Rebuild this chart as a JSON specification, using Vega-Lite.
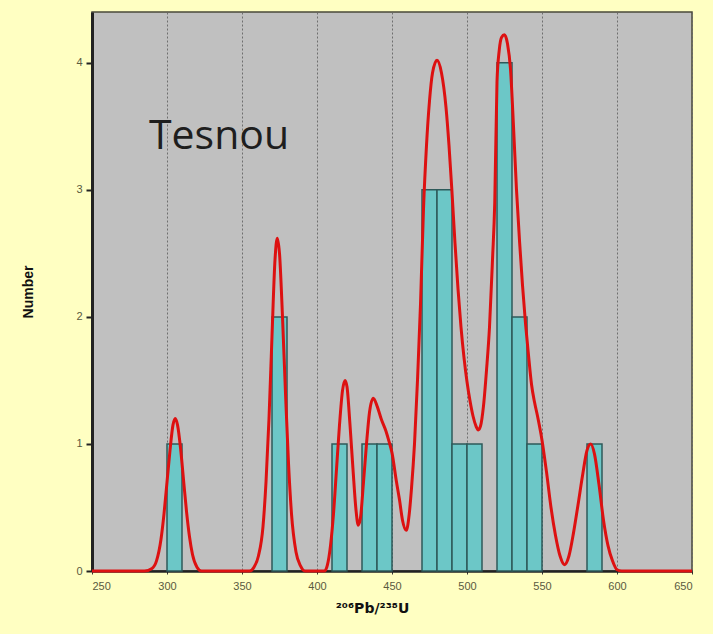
{
  "$schema": "https://vega.github.io/schema/vega-lite/v6.json",
  "autosize": "none",
  "width": 600,
  "height": 559,
  "padding": {"left": 92, "top": 12, "right": 21, "bottom": 63},
  "background": "#FFFFC2",
  "config": {
    "view": {"fill": "#C0C0C0", "stroke": "#4A4A3A", "strokeWidth": 1.5},
    "font": "Liberation Sans"
  },
  "datasets": {
    "bars": [
      {"lo": 300, "hi": 310, "count": 1},
      {"lo": 370, "hi": 380, "count": 2},
      {"lo": 410, "hi": 420, "count": 1},
      {"lo": 430, "hi": 440, "count": 1},
      {"lo": 440, "hi": 450, "count": 1},
      {"lo": 470, "hi": 480, "count": 3},
      {"lo": 480, "hi": 490, "count": 3},
      {"lo": 490, "hi": 500, "count": 1},
      {"lo": 500, "hi": 510, "count": 1},
      {"lo": 520, "hi": 530, "count": 4},
      {"lo": 530, "hi": 540, "count": 2},
      {"lo": 540, "hi": 550, "count": 1},
      {"lo": 580, "hi": 590, "count": 1}
    ],
    "curve": [
      {"age": 250, "density": 0}, {"age": 285, "density": 0}, {"age": 290, "density": 0.02},
      {"age": 293, "density": 0.08}, {"age": 296, "density": 0.25}, {"age": 298, "density": 0.45},
      {"age": 300, "density": 0.7}, {"age": 302, "density": 0.95}, {"age": 304, "density": 1.15},
      {"age": 305.5, "density": 1.2}, {"age": 307, "density": 1.15}, {"age": 309, "density": 0.97},
      {"age": 311, "density": 0.72}, {"age": 313, "density": 0.47}, {"age": 315, "density": 0.27},
      {"age": 317, "density": 0.13}, {"age": 320, "density": 0.03}, {"age": 323, "density": 0},
      {"age": 355, "density": 0}, {"age": 358, "density": 0.03}, {"age": 361, "density": 0.12},
      {"age": 364, "density": 0.35}, {"age": 366, "density": 0.7}, {"age": 368, "density": 1.2},
      {"age": 370, "density": 1.85}, {"age": 372, "density": 2.45}, {"age": 373.5, "density": 2.62},
      {"age": 375, "density": 2.5}, {"age": 377, "density": 2.0}, {"age": 379, "density": 1.4},
      {"age": 381, "density": 0.85}, {"age": 383, "density": 0.45}, {"age": 386, "density": 0.15},
      {"age": 389, "density": 0.04}, {"age": 392, "density": 0}, {"age": 405, "density": 0},
      {"age": 407, "density": 0.05}, {"age": 409, "density": 0.2}, {"age": 411, "density": 0.45},
      {"age": 413, "density": 0.8}, {"age": 415, "density": 1.15}, {"age": 417, "density": 1.42},
      {"age": 418.7, "density": 1.5}, {"age": 420, "density": 1.45}, {"age": 422, "density": 1.15},
      {"age": 424, "density": 0.8}, {"age": 426, "density": 0.48}, {"age": 427.5, "density": 0.36},
      {"age": 429, "density": 0.42}, {"age": 431, "density": 0.7}, {"age": 433, "density": 1.0},
      {"age": 435, "density": 1.25}, {"age": 437.5, "density": 1.36}, {"age": 440, "density": 1.3},
      {"age": 443, "density": 1.19}, {"age": 446, "density": 1.1}, {"age": 448, "density": 1.02},
      {"age": 450, "density": 0.93}, {"age": 453, "density": 0.7}, {"age": 455, "density": 0.56},
      {"age": 457, "density": 0.4}, {"age": 459.5, "density": 0.32}, {"age": 461.5, "density": 0.45},
      {"age": 463, "density": 0.65}, {"age": 465, "density": 1.0}, {"age": 467, "density": 1.5},
      {"age": 469, "density": 2.1}, {"age": 471, "density": 2.85}, {"age": 473, "density": 3.35},
      {"age": 475, "density": 3.7}, {"age": 477, "density": 3.92}, {"age": 480, "density": 4.02},
      {"age": 483, "density": 3.92}, {"age": 486, "density": 3.65}, {"age": 488, "density": 3.35},
      {"age": 490, "density": 2.98}, {"age": 492, "density": 2.58}, {"age": 494, "density": 2.22},
      {"age": 496, "density": 1.92}, {"age": 498, "density": 1.68}, {"age": 500, "density": 1.49},
      {"age": 502, "density": 1.34}, {"age": 504, "density": 1.22}, {"age": 506, "density": 1.14},
      {"age": 507.5, "density": 1.11}, {"age": 509, "density": 1.14}, {"age": 511, "density": 1.3},
      {"age": 513, "density": 1.58}, {"age": 515, "density": 1.92},
      {"age": 517, "density": 2.45}, {"age": 518.5, "density": 2.9}, {"age": 520, "density": 3.85},
      {"age": 521.5, "density": 4.1}, {"age": 523, "density": 4.2}, {"age": 525, "density": 4.22},
      {"age": 527, "density": 4.15}, {"age": 529, "density": 3.95}, {"age": 531, "density": 3.5},
      {"age": 533, "density": 3.0}, {"age": 535, "density": 2.6}, {"age": 537, "density": 2.25},
      {"age": 539, "density": 1.95}, {"age": 541, "density": 1.7}, {"age": 543, "density": 1.47},
      {"age": 545, "density": 1.33}, {"age": 547, "density": 1.22}, {"age": 550, "density": 1.03},
      {"age": 553, "density": 0.78}, {"age": 556, "density": 0.5}, {"age": 559, "density": 0.28},
      {"age": 562, "density": 0.12}, {"age": 565, "density": 0.05}, {"age": 568, "density": 0.12},
      {"age": 571, "density": 0.3}, {"age": 574, "density": 0.52}, {"age": 577, "density": 0.75},
      {"age": 580, "density": 0.95}, {"age": 582.5, "density": 1.0}, {"age": 585, "density": 0.92},
      {"age": 588, "density": 0.68}, {"age": 591, "density": 0.4}, {"age": 594, "density": 0.2},
      {"age": 597, "density": 0.08}, {"age": 600, "density": 0.01}, {"age": 603, "density": 0},
      {"age": 650, "density": 0}
    ],
    "label": [{"age": 288, "density": 3.42, "text": "Tesnou"}]
  },
  "layer": [
    {
      "data": {"name": "bars"},
      "mark": {"type": "rect", "fill": "#6CC7C7", "stroke": "#2E5A5A", "strokeWidth": 1.5},
      "encoding": {
        "x": {
          "field": "lo", "type": "quantitative",
          "scale": {"domain": [250, 650], "nice": false, "zero": false},
          "axis": {
            "values": [250, 300, 350, 400, 450, 500, 550, 600, 650],
            "title": "²⁰⁶Pb/²³⁸U",
            "titleFont": "DejaVu Sans", "titleFontSize": 14, "titleFontWeight": "bold",
            "titleColor": "#111", "titlePadding": 10, "titleX": 280,
            "labelFontSize": 11, "labelColor": "#5A5A40", "labelPadding": 6,
            "domainColor": "#222", "domainWidth": 2.5,
            "tickColor": "#333", "tickSize": 3, "tickWidth": 1,
            "grid": true, "gridColor": "#666", "gridDash": [2, 2], "gridWidth": 1, "gridOpacity": 0.9
          }
        },
        "x2": {"field": "hi"},
        "y": {
          "field": "count", "type": "quantitative",
          "scale": {"domain": [0, 4.4], "nice": false},
          "axis": {
            "values": [0, 1, 2, 3, 4], "format": "d",
            "title": "Number",
            "titleFont": "Liberation Sans", "titleFontSize": 14, "titleFontWeight": "bold",
            "titleColor": "#111", "titlePadding": 40,
            "labelFontSize": 11, "labelColor": "#5A5A40", "labelPadding": 4,
            "domainColor": "#222", "domainWidth": 3,
            "tickColor": "#222", "tickSize": 6, "tickWidth": 2,
            "grid": false
          }
        },
        "y2": {"datum": 0}
      }
    },
    {
      "data": {"name": "curve"},
      "mark": {"type": "line", "color": "#DD1111", "strokeWidth": 3, "interpolate": "monotone"},
      "encoding": {
        "x": {"field": "age", "type": "quantitative"},
        "y": {"field": "density", "type": "quantitative"},
        "order": {"field": "age"}
      }
    },
    {
      "data": {"name": "label"},
      "mark": {"type": "text", "align": "left", "baseline": "middle", "font": "Open Sans", "fontSize": 41, "color": "#1E1E1E"},
      "encoding": {
        "x": {"field": "age", "type": "quantitative"},
        "y": {"field": "density", "type": "quantitative"},
        "text": {"field": "text"}
      }
    }
  ]
}
